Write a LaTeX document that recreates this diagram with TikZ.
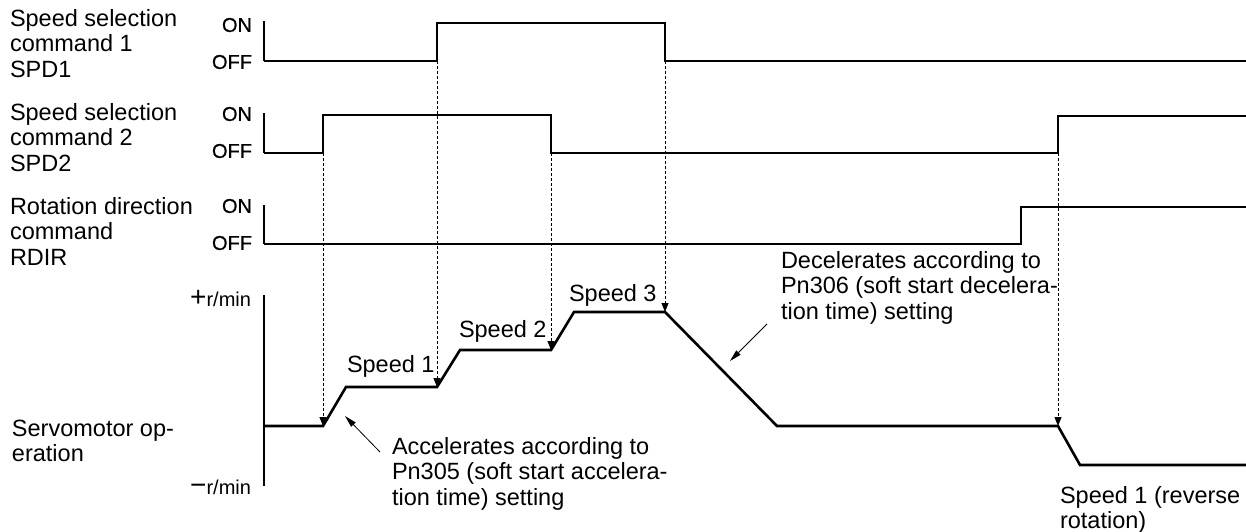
\documentclass[tikz,border=0pt]{standalone}
\usepackage{fontspec}
\setmainfont{Liberation Sans}
\usetikzlibrary{arrows.meta}
\begin{document}
\begin{tikzpicture}[x=1pt,y=-1pt,
  every node/.style={inner sep=0pt, outer sep=0pt},
  lbl/.style={anchor=north west, align=left, font=\fontsize{23.5}{25.5}\selectfont},
  spd/.style={anchor=base west, font=\fontsize{23.5}{25.5}\selectfont},
  onoff/.style={anchor=east, font=\fontsize{20}{21}\selectfont\addfontfeature{FakeBold=0.5}},
  axisline/.style={line width=1.3pt},
  wave/.style={line width=2.6pt, line join=miter},
  guide/.style={line width=0.8pt, dash pattern=on 3pt off 2pt, -{Triangle[length=9pt,width=7pt]}},
  pointer/.style={line width=0.8pt, -{Triangle[length=12pt,width=6pt]}}
]
\useasboundingbox (0,0) rectangle (1246,531);

% ---------- left labels ----------
\node[lbl] (l1) at (10,9) {Speed selection\\command 1\\SPD1};
\node[lbl] (l2) at (10,103) {Speed selection\\command 2\\SPD2};
\node[lbl] (l3) at (10,197) {Rotation direction\\command\\RDIR};
\node[lbl] (l4) at (12,420) {Servomotor op-\\eration};

% ---------- ON / OFF labels ----------
\node[onoff] (on1)  at (252,25)  {ON};
\node[onoff] (off1) at (252,62)  {OFF};
\node[onoff] (on2)  at (252,114) {ON};
\node[onoff] (off2) at (252,151) {OFF};
\node[onoff] (on3)  at (252,206) {ON};
\node[onoff] (off3) at (252,243) {OFF};
\node[anchor=east] (plus) at (251,299) {{\fontsize{28}{28}\selectfont +}{\fontsize{20}{20}\selectfont r/min}};
\node[anchor=east] (minus) at (251,487) {{\fontsize{28}{28}\selectfont −}{\fontsize{20}{20}\selectfont r/min}};

% ---------- key coordinates ----------
% SPD1
\coordinate (a1t) at (264,21);  \coordinate (a1b) at (264,61);
\coordinate (p1r) at (437,61);  \coordinate (p1f) at (665,61);
% SPD2
\coordinate (a2t) at (264,113); \coordinate (a2b) at (264,153);
\coordinate (p2r) at (323,153); \coordinate (p2f) at (551,153); \coordinate (p2r2) at (1058,153);
% RDIR
\coordinate (a3t) at (264,205); \coordinate (a3b) at (264,244);
% speed
\coordinate (a4t) at (264,295); \coordinate (a4b) at (264,486);
\coordinate (v0) at (323,426);
\coordinate (v1) at (437,387);
\coordinate (v2) at (551,350);
\coordinate (v3) at (665,312);
\coordinate (v4) at (1058,426);

% ---------- axes ----------
\draw[axisline] (a1t) -- (a1b);
\draw[axisline] (a2t) -- (a2b);
\draw[axisline] (a3t) -- (a3b);
\draw[axisline] (a4t) -- (a4b);

% ---------- dotted guides ----------
\draw[guide] (p2r) -- (v0);
\draw[guide] (p1r) -- (v1);
\draw[guide] (p2f) -- (v2);
\draw[guide] (p1f) -- (v3);
\draw[guide] (p2r2) -- (v4);

% ---------- waveforms ----------
\draw[wave] (a1b) -- (p1r) -- (437,23) -- (665,23) -- (p1f) -- (1250,61);
\draw[wave] (a2b) -- (p2r) -- (323,115) -- (551,115) -- (p2f) -- (p2r2) -- (1058,116) -- (1250,116);
\draw[wave] (a3b) -- (1021,244) -- (1021,207) -- (1250,207);
\draw[wave] (264,426) -- (v0) -- (346,387) -- (v1) -- (460,350) -- (v2) -- (574,312) -- (v3) -- (777,426) -- (v4) -- (1080,465) -- (1250,465);

% ---------- speed labels ----------
\node[spd] (sp1) at (347,372) {Speed 1};
\node[spd] (sp2) at (459,337) {Speed 2};
\node[spd] (sp3) at (569,301) {Speed 3};
\node[lbl] (rev) at (1060,486) {Speed 1 (reverse\\rotation)};

% ---------- annotations ----------
\node[lbl] (acc) at (392,437) {Accelerates according to\\Pn305 (soft start accelera-\\tion time) setting};
\node[lbl] (dec) at (781,251) {Decelerates according to\\Pn306 (soft start decelera-\\tion time) setting};
\coordinate (acct) at (380,452); \coordinate (acch) at (345,416);
\coordinate (dect) at (767,324); \coordinate (dech) at (730,361);
\draw[pointer] (acct) -- (acch);
\draw[pointer] (dect) -- (dech);
\end{tikzpicture}
\end{document}
